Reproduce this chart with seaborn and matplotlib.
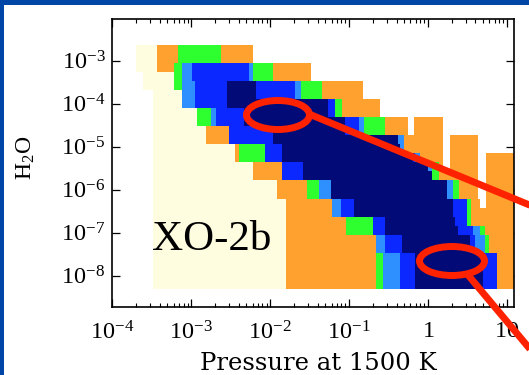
import numpy as np
import pandas as pd
import matplotlib
matplotlib.use("Agg")
import matplotlib.pyplot as plt
import seaborn as sns
from matplotlib.colors import ListedColormap
from matplotlib.patches import Ellipse, Rectangle
from matplotlib.lines import Line2D
from matplotlib.ticker import FixedLocator, FixedFormatter, NullLocator

# ------------------------------------------------------------------ data
# colour levels: 0 empty, 1 cream, 2 orange, 3 green, 4 light blue, 5 blue, 6 navy
level_colors = ["#FFFDE0", "#FFA12E", "#2EFF2E", "#2E8FFF", "#0A28FF", "#020A78"]

# H2O bins (log10), top row first
h2o_top = -2.634
h2o_step = 0.2102

# per H2O row: colour level of each run along log10(pressure), and run breaks
row_levels = [
    "1232",
    "1232",
    "12345432",
    "1345432",
    "134565432",
    "14565432",
    "1456532",
    "13456532",
    "13456543202",
    "1256543202",
    "12564202",
    "123564202",
    "123565420202",
    "12564320202",
    "12563202",
    "1234643202",
    "1234643202",
    "1245653202",
    "12456532",
    "12356532",
    "123565432",
    "124565432",
    "124565432",
    "12345652",
    "12345652",
    "12345652",
    "12345652",
]
row_breaks = [
    [-3.700, -3.437, -3.163, -2.622, -2.221],
    [-3.700, -3.437, -3.163, -2.622, -2.221],
    [-3.700, -3.437, -3.214, -3.113, -2.994, -2.264, -2.213, -1.959, -1.485],
    [-3.607, -3.214, -3.113, -2.994, -2.264, -2.213, -1.959, -1.485],
    [-3.607, -3.214, -3.113, -2.952, -2.542, -2.179, -1.684, -1.612, -1.346, -0.819],
    [-3.488, -3.120, -2.952, -2.542, -2.179, -1.684, -1.612, -1.346, -0.819],
    [-3.488, -3.120, -2.952, -2.542, -1.262, -1.177, -1.093, -0.607],
    [-3.488, -2.930, -2.749, -2.686, -2.331, -1.262, -1.177, -1.093, -0.607],
    [-3.488, -2.930, -2.749, -2.686, -2.331, -1.051, -0.869, -0.810, -0.544, -0.256, -0.172, 0.195],
    [-3.488, -2.812, -2.517, -1.967, -1.051, -0.869, -0.810, -0.544, -0.256, -0.172, 0.195],
    [-3.488, -2.812, -2.517, -1.967, -0.375, -0.303, 0.195, 0.280, 0.639],
    [-3.488, -2.445, -2.390, -2.065, -1.853, -0.354, -0.303, 0.195, 0.280, 0.639],
    [-3.488, -2.445, -2.390, -2.065, -1.853, -0.189, -0.163, -0.100, 0.195, 0.280, 0.639, 0.733, 1.104],
    [-3.488, -2.221, -1.853, -1.579, 0.000, 0.052, 0.144, 0.195, 0.280, 0.639, 0.733, 1.104],
    [-3.488, -2.221, -1.853, -1.579, 0.048, 0.144, 0.639, 0.733, 1.104],
    [-3.488, -1.909, -1.528, -1.380, -1.232, 0.238, 0.314, 0.398, 0.639, 0.733, 1.104],
    [-3.488, -1.909, -1.528, -1.380, -1.232, 0.238, 0.314, 0.398, 0.639, 0.733, 1.104],
    [-3.488, -1.798, -1.219, -1.105, -0.933, 0.322, 0.492, 0.542, 0.660, 0.733, 1.104],
    [-3.488, -1.798, -1.219, -1.105, -0.933, 0.322, 0.492, 0.542, 1.104],
    [-3.488, -1.798, -1.042, -0.692, -0.544, 0.344, 0.492, 0.542, 1.104],
    [-3.488, -1.798, -1.042, -0.692, -0.544, 0.382, 0.572, 0.660, 0.724, 1.104],
    [-3.488, -1.798, -0.662, -0.544, -0.332, 0.534, 0.597, 0.724, 0.774, 1.104],
    [-3.488, -1.798, -0.662, -0.544, -0.332, 0.534, 0.597, 0.724, 0.774, 1.104],
    [-3.488, -1.798, -0.662, -0.573, -0.354, -0.163, 0.698, 0.872, 1.104],
    [-3.488, -1.798, -0.662, -0.573, -0.354, -0.163, 0.698, 0.872, 1.104],
    [-3.488, -1.798, -0.662, -0.573, -0.354, -0.163, 0.698, 0.872, 1.104],
    [-3.488, -1.798, -0.662, -0.573, -0.354, -0.163, 0.698, 0.872, 1.104],
]

xtick_values = [1e-4, 1e-3, 1e-2, 1e-1, 1, 10]
xtick_labels = [r"$10^{-4}$", r"$10^{-3}$", r"$10^{-2}$", r"$10^{-1}$", r"$1$", r"$10$"]
ytick_values = [1e-8, 1e-7, 1e-6, 1e-5, 1e-4, 1e-3]
ytick_labels = [r"$10^{-8}$", r"$10^{-7}$", r"$10^{-6}$", r"$10^{-5}$", r"$10^{-4}$", r"$10^{-3}$"]

planet = "XO-2b"
xlabel = "Pressure at 1500 K"

# ------------------------------------------------------------------ table
x_edges = np.array(sorted({b for br in row_breaks for b in br}))
x_cent = 0.5 * (x_edges[:-1] + x_edges[1:])
n_rows = len(row_levels)
y_edges = h2o_top - h2o_step * np.arange(n_rows, -1, -1)

recs = []
for k, (levs, brks) in enumerate(zip(row_levels, row_breaks)):
    yc = h2o_top - (k + 0.5) * h2o_step
    for c in x_cent:
        lev = 0
        for j in range(len(levs)):
            if brks[j] <= c < brks[j + 1]:
                lev = int(levs[j])
                break
        recs.append((10 ** c, 10 ** yc, lev))
df = pd.DataFrame(recs, columns=["pressure", "h2o", "level"])

# ------------------------------------------------------------------ style
sns.set_style("ticks")
plt.rcParams["mathtext.fontset"] = "custom"
plt.rcParams["mathtext.rm"] = "Liberation Serif"
plt.rcParams["mathtext.it"] = "Liberation Serif:italic"
plt.rcParams["mathtext.bf"] = "Liberation Serif:bold"
plt.rcParams["font.family"] = ["Liberation Serif", "DejaVu Serif"]

W, H = 529, 375
fig = plt.figure(figsize=(W / 100, H / 100), dpi=100)
fig.patch.set_facecolor("white")

ax_l, ax_r, ax_t, ax_b = 112.3, 514.0, 18.6, 306.7
ax = fig.add_axes([ax_l / W, 1 - ax_b / H, (ax_r - ax_l) / W, (ax_b - ax_t) / H])

cmap = ListedColormap(level_colors)
sns.histplot(
    data=df, x="pressure", y="h2o", weights="level",
    bins=[x_edges, y_edges], log_scale=(True, True),
    cmap=cmap, vmin=0.5, vmax=6.5, thresh=0, cbar=False, ax=ax,
)

ax.set_xlim(1e-4, 10 ** 1.09)
ax.set_ylim(10 ** -8.723, 10 ** -2.021)
ax.set_xlabel("")
ax.set_ylabel("")
ax.grid(False)

ax.xaxis.set_major_locator(FixedLocator(xtick_values))
ax.xaxis.set_major_formatter(FixedFormatter(xtick_labels))
minors = [m * 10.0 ** e for e in range(-4, 2) for m in range(2, 10)]
ax.xaxis.set_minor_locator(FixedLocator(minors))
ax.yaxis.set_major_locator(FixedLocator(ytick_values))
ax.yaxis.set_major_formatter(FixedFormatter(ytick_labels))
ax.yaxis.set_minor_locator(NullLocator())

ax.tick_params(which="both", direction="in", top=True, right=True,
               color="black", labelcolor="black")
ax.tick_params(which="major", length=5.8, width=0.9, labelsize=17.5)
ax.tick_params(which="minor", length=3.0, width=0.8)
ax.tick_params(axis="y", which="major", pad=5.0)
ax.tick_params(axis="x", which="major", pad=10.5)
for s in ax.spines.values():
    s.set_color("black")
    s.set_linewidth(1.2)
    s.set_visible(True)

ax.text((151.7 - ax_l) / (ax_r - ax_l), (ax_b - 249.5) / (ax_b - ax_t), planet,
        transform=ax.transAxes, fontsize=31, family="Liberation Serif",
        ha="left", va="baseline", color="black", zorder=5)

fig.text(318 / W, 1 - 369.5 / H, xlabel, family="DejaVu Serif", fontsize=17.5,
         ha="center", va="baseline", color="black")
fig.text(26 / W, 1 - 158 / H, r"H$_2$O", family="Liberation Serif", fontsize=17,
         rotation=90, ha="center", va="center", color="black")

# ------------------------------------------------------------------ annotations
red = "#FF2200"
def fx(px):
    return px / W
def fy(py):
    return 1 - py / H

for cx, cy, w, h in [(278, 115, 63, 29), (452, 261, 65, 29)]:
    fig.add_artist(Ellipse((fx(cx), fy(cy)), w / W, h / H, transform=fig.transFigure,
                           fill=False, edgecolor=red, linewidth=5, zorder=10))
fig.add_artist(Line2D([fx(309), fx(545)], [fy(114), fy(211.4)], transform=fig.transFigure,
                      color=red, linewidth=5, solid_capstyle="butt", zorder=10))
fig.add_artist(Line2D([fx(468), fx(545)], [fy(275), fy(367)], transform=fig.transFigure,
                      color=red, linewidth=5, solid_capstyle="butt", zorder=10))

frame_blue = "#0046A6"
fig.add_artist(Rectangle((0, 1 - 5 / H), 1, 5 / H, transform=fig.transFigure,
                         facecolor=frame_blue, edgecolor="none", zorder=20))
fig.add_artist(Rectangle((0, 0), 4 / W, 1, transform=fig.transFigure,
                         facecolor=frame_blue, edgecolor="none", zorder=20))

fig.savefig("out.png", dpi=100)
